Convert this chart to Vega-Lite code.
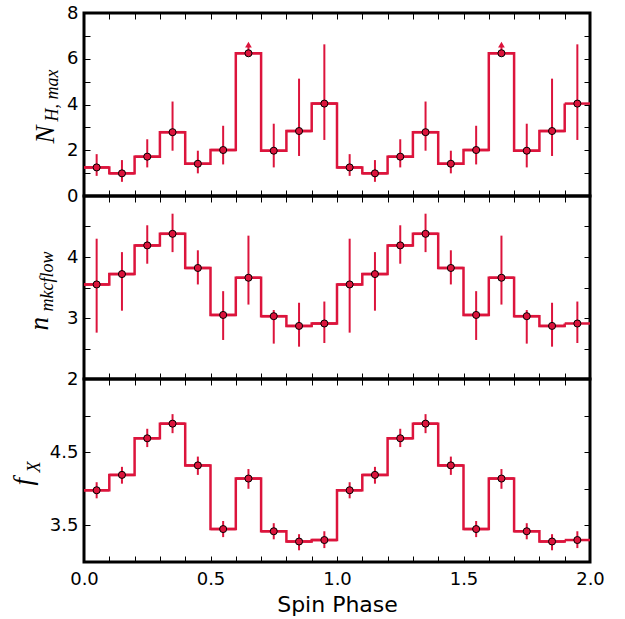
{
  "$schema": "https://vega.github.io/schema/vega-lite/v6.json",
  "autosize": {"type": "none"},
  "padding": {"left": 84, "top": 13, "right": 541, "bottom": 606},
  "background": "white",
  "bounds": "flush",
  "config": {
    "view": {"stroke": "black", "strokeWidth": 3},
    "axis": {
      "domain": false, "grid": false, "tickColor": "black", "tickWidth": 1, "tickSize": -6,
      "labelFont": "DejaVu Sans", "labelFontSize": 18, "labelColor": "black",
      "labelOverlap": false, "labelBound": false, "labelFlush": false
    }
  },
  "datasets": {
    "nh": [
      {"phase":0.05,"lo":0.0,"hi":0.1,"v":1.25,"emin":0.88,"emax":1.83},
      {"phase":0.15,"lo":0.1,"hi":0.2,"v":0.99,"emin":0.62,"emax":1.57},
      {"phase":0.25,"lo":0.2,"hi":0.3,"v":1.72,"emin":1.25,"emax":2.48},
      {"phase":0.35,"lo":0.3,"hi":0.4,"v":2.79,"emin":1.98,"emax":4.13},
      {"phase":0.45,"lo":0.4,"hi":0.5,"v":1.41,"emin":0.99,"emax":1.98},
      {"phase":0.55,"lo":0.5,"hi":0.6,"v":2.01,"emin":1.38,"emax":3.07},
      {"phase":0.65,"lo":0.6,"hi":0.7,"v":6.24,"emin":6.24,"emax":6.62,"lowerlimit":true},
      {"phase":0.75,"lo":0.7,"hi":0.8,"v":1.98,"emin":1.25,"emax":3.16},
      {"phase":0.85,"lo":0.8,"hi":0.9,"v":2.84,"emin":1.75,"emax":5.13},
      {"phase":0.95,"lo":0.9,"hi":1.0,"v":4.04,"emin":2.45,"emax":6.63},
      {"phase":1.05,"lo":1.0,"hi":1.1,"v":1.25,"emin":0.88,"emax":1.83},
      {"phase":1.15,"lo":1.1,"hi":1.2,"v":0.99,"emin":0.62,"emax":1.57},
      {"phase":1.25,"lo":1.2,"hi":1.3,"v":1.72,"emin":1.25,"emax":2.48},
      {"phase":1.35,"lo":1.3,"hi":1.4,"v":2.79,"emin":1.98,"emax":4.13},
      {"phase":1.45,"lo":1.4,"hi":1.5,"v":1.41,"emin":0.99,"emax":1.98},
      {"phase":1.55,"lo":1.5,"hi":1.6,"v":2.01,"emin":1.38,"emax":3.07},
      {"phase":1.65,"lo":1.6,"hi":1.7,"v":6.24,"emin":6.24,"emax":6.62,"lowerlimit":true},
      {"phase":1.75,"lo":1.7,"hi":1.8,"v":1.98,"emin":1.25,"emax":3.16},
      {"phase":1.85,"lo":1.8,"hi":1.9,"v":2.84,"emin":1.75,"emax":5.13},
      {"phase":1.95,"lo":1.9,"hi":2.0,"v":4.04,"emin":2.45,"emax":6.63}
    ],
    "nm": [
      {"phase":0.05,"lo":0.0,"hi":0.1,"v":3.55,"emin":2.76,"emax":4.30},
      {"phase":0.15,"lo":0.1,"hi":0.2,"v":3.72,"emin":3.12,"emax":4.08},
      {"phase":0.25,"lo":0.2,"hi":0.3,"v":4.19,"emin":3.89,"emax":4.52},
      {"phase":0.35,"lo":0.3,"hi":0.4,"v":4.38,"emin":4.08,"emax":4.71},
      {"phase":0.45,"lo":0.4,"hi":0.5,"v":3.82,"emin":3.55,"emax":4.11},
      {"phase":0.55,"lo":0.5,"hi":0.6,"v":3.05,"emin":2.64,"emax":3.44},
      {"phase":0.65,"lo":0.6,"hi":0.7,"v":3.66,"emin":3.22,"emax":4.35},
      {"phase":0.75,"lo":0.7,"hi":0.8,"v":3.03,"emin":2.58,"emax":3.13},
      {"phase":0.85,"lo":0.8,"hi":0.9,"v":2.87,"emin":2.53,"emax":3.25},
      {"phase":0.95,"lo":0.9,"hi":1.0,"v":2.91,"emin":2.59,"emax":3.27},
      {"phase":1.05,"lo":1.0,"hi":1.1,"v":3.55,"emin":2.76,"emax":4.30},
      {"phase":1.15,"lo":1.1,"hi":1.2,"v":3.72,"emin":3.12,"emax":4.08},
      {"phase":1.25,"lo":1.2,"hi":1.3,"v":4.19,"emin":3.89,"emax":4.52},
      {"phase":1.35,"lo":1.3,"hi":1.4,"v":4.38,"emin":4.08,"emax":4.71},
      {"phase":1.45,"lo":1.4,"hi":1.5,"v":3.82,"emin":3.55,"emax":4.11},
      {"phase":1.55,"lo":1.5,"hi":1.6,"v":3.05,"emin":2.64,"emax":3.44},
      {"phase":1.65,"lo":1.6,"hi":1.7,"v":3.66,"emin":3.22,"emax":4.35},
      {"phase":1.75,"lo":1.7,"hi":1.8,"v":3.03,"emin":2.58,"emax":3.13},
      {"phase":1.85,"lo":1.8,"hi":1.9,"v":2.87,"emin":2.53,"emax":3.25},
      {"phase":1.95,"lo":1.9,"hi":2.0,"v":2.91,"emin":2.59,"emax":3.27}
    ],
    "fx": [
      {"phase":0.05,"lo":0.0,"hi":0.1,"v":3.98,"emin":3.87,"emax":4.09},
      {"phase":0.15,"lo":0.1,"hi":0.2,"v":4.19,"emin":4.07,"emax":4.30},
      {"phase":0.25,"lo":0.2,"hi":0.3,"v":4.69,"emin":4.57,"emax":4.82},
      {"phase":0.35,"lo":0.3,"hi":0.4,"v":4.89,"emin":4.76,"emax":5.02},
      {"phase":0.45,"lo":0.4,"hi":0.5,"v":4.32,"emin":4.19,"emax":4.44},
      {"phase":0.55,"lo":0.5,"hi":0.6,"v":3.45,"emin":3.34,"emax":3.56},
      {"phase":0.65,"lo":0.6,"hi":0.7,"v":4.14,"emin":4.00,"emax":4.27},
      {"phase":0.75,"lo":0.7,"hi":0.8,"v":3.42,"emin":3.31,"emax":3.53},
      {"phase":0.85,"lo":0.8,"hi":0.9,"v":3.28,"emin":3.16,"emax":3.38},
      {"phase":0.95,"lo":0.9,"hi":1.0,"v":3.30,"emin":3.19,"emax":3.42},
      {"phase":1.05,"lo":1.0,"hi":1.1,"v":3.98,"emin":3.87,"emax":4.09},
      {"phase":1.15,"lo":1.1,"hi":1.2,"v":4.19,"emin":4.07,"emax":4.30},
      {"phase":1.25,"lo":1.2,"hi":1.3,"v":4.69,"emin":4.57,"emax":4.82},
      {"phase":1.35,"lo":1.3,"hi":1.4,"v":4.89,"emin":4.76,"emax":5.02},
      {"phase":1.45,"lo":1.4,"hi":1.5,"v":4.32,"emin":4.19,"emax":4.44},
      {"phase":1.55,"lo":1.5,"hi":1.6,"v":3.45,"emin":3.34,"emax":3.56},
      {"phase":1.65,"lo":1.6,"hi":1.7,"v":4.14,"emin":4.00,"emax":4.27},
      {"phase":1.75,"lo":1.7,"hi":1.8,"v":3.42,"emin":3.31,"emax":3.53},
      {"phase":1.85,"lo":1.8,"hi":1.9,"v":3.28,"emin":3.16,"emax":3.38},
      {"phase":1.95,"lo":1.9,"hi":2.0,"v":3.30,"emin":3.19,"emax":3.42}
    ]
  },
  "spacing": 0,
  "vconcat": [
    {
      "width": 506, "height": 183,
      "data": {"name": "nh"},
      "resolve": {"axis": {"x": "independent", "y": "independent"}},
      "layer": [
        {
          "mark": {"type": "rule", "color": "#DC143C", "strokeWidth": 2.5},
          "encoding": {
            "x": {"field": "lo", "type": "quantitative", "scale": {"domain": [0, 2], "nice": false},
                  "axis": {"orient": "bottom", "values": [0,0.1,0.2,0.3,0.4,0.5,0.6,0.7,0.8,0.9,1,1.1,1.2,1.3,1.4,1.5,1.6,1.7,1.8,1.9,2], "labels": false, "title": null}},
            "x2": {"field": "hi"},
            "y": {"field": "v", "type": "quantitative", "scale": {"domain": [0, 8], "nice": false, "zero": false},
                  "axis": {"orient": "left", "values": [0,1,2,3,4,5,6,7,8], "labelExpr": "datum.value % 2 == 0 ? format(datum.value, 'd') : ''", "labelPadding": 12,
                           "title": "N", "titleFont": "Liberation Serif", "titleFontStyle": "italic", "titleFontWeight": "normal", "titleFontSize": 27,
                           "titleAngle": -90, "titleAlign": "left", "titleBaseline": "alphabetic", "titleX": -31, "titleY": 130}}
          }
        },
        {
          "mark": {"type": "line", "interpolate": "step-after", "color": "#DC143C", "strokeWidth": 2.5},
          "encoding": {
            "x": {"field": "lo", "type": "quantitative", "scale": {"domain": [0, 2], "nice": false},
                  "axis": {"orient": "top", "values": [0,0.1,0.2,0.3,0.4,0.5,0.6,0.7,0.8,0.9,1,1.1,1.2,1.3,1.4,1.5,1.6,1.7,1.8,1.9,2], "labels": false, "title": null}},
            "y": {"field": "v", "type": "quantitative", "scale": {"domain": [0, 8], "nice": false, "zero": false},
                  "axis": {"orient": "right", "values": [0,1,2,3,4,5,6,7,8], "labels": false, "title": null}}
          }
        },
        {
          "mark": {"type": "rule", "color": "#DC143C", "strokeWidth": 2},
          "encoding": {
            "x": {"field": "phase", "type": "quantitative", "scale": {"domain": [0, 2], "nice": false}, "axis": null},
            "y": {"field": "emin", "type": "quantitative", "scale": {"domain": [0, 8], "nice": false, "zero": false},
                  "axis": {"orient": "left", "ticks": false, "labels": false,
                           "title": "H, max", "titleFont": "Liberation Serif", "titleFontStyle": "italic", "titleFontWeight": "normal", "titleFontSize": 18,
                           "titleAngle": -90, "titleAlign": "left", "titleBaseline": "alphabetic", "titleX": -27, "titleY": 108}},
            "y2": {"field": "emax"}
          }
        },
        {
          "transform": [{"filter": "datum.lowerlimit === true"}],
          "mark": {"type": "point", "shape": "triangle-up", "filled": true, "color": "#DC143C", "size": 45, "opacity": 1},
          "encoding": {
            "x": {"field": "phase", "type": "quantitative", "scale": {"domain": [0, 2], "nice": false}, "axis": null},
            "y": {"field": "emax", "type": "quantitative", "scale": {"domain": [0, 8], "nice": false, "zero": false}, "axis": null}
          }
        },
        {
          "mark": {"type": "point", "filled": true, "fill": "#DC143C", "stroke": "black", "strokeWidth": 1, "size": 50, "opacity": 1},
          "encoding": {
            "x": {"field": "phase", "type": "quantitative", "scale": {"domain": [0, 2], "nice": false}, "axis": null},
            "y": {"field": "v", "type": "quantitative", "scale": {"domain": [0, 8], "nice": false, "zero": false}, "axis": null}
          }
        }
      ]
    },
    {
      "width": 506, "height": 183,
      "data": {"name": "nm"},
      "resolve": {"axis": {"x": "independent", "y": "independent"}},
      "layer": [
        {
          "mark": {"type": "rule", "color": "#DC143C", "strokeWidth": 2.5},
          "encoding": {
            "x": {"field": "lo", "type": "quantitative", "scale": {"domain": [0, 2], "nice": false},
                  "axis": {"orient": "bottom", "values": [0,0.1,0.2,0.3,0.4,0.5,0.6,0.7,0.8,0.9,1,1.1,1.2,1.3,1.4,1.5,1.6,1.7,1.8,1.9,2], "labels": false, "title": null}},
            "x2": {"field": "hi"},
            "y": {"field": "v", "type": "quantitative", "scale": {"domain": [2, 5], "nice": false, "zero": false},
                  "axis": {"orient": "left", "values": [2,2.5,3,3.5,4,4.5,5], "labelExpr": "(datum.value % 1 == 0 && datum.value < 5) ? format(datum.value, 'd') : ''", "labelPadding": 12,
                           "title": "n", "titleFont": "Liberation Serif", "titleFontStyle": "italic", "titleFontWeight": "normal", "titleFontSize": 27,
                           "titleAngle": -90, "titleAlign": "left", "titleBaseline": "alphabetic", "titleX": -37, "titleY": 134}}
          }
        },
        {
          "mark": {"type": "line", "interpolate": "step-after", "color": "#DC143C", "strokeWidth": 2.5},
          "encoding": {
            "x": {"field": "lo", "type": "quantitative", "scale": {"domain": [0, 2], "nice": false},
                  "axis": {"orient": "top", "values": [0,0.1,0.2,0.3,0.4,0.5,0.6,0.7,0.8,0.9,1,1.1,1.2,1.3,1.4,1.5,1.6,1.7,1.8,1.9,2], "labels": false, "title": null}},
            "y": {"field": "v", "type": "quantitative", "scale": {"domain": [2, 5], "nice": false, "zero": false},
                  "axis": {"orient": "right", "values": [2,2.5,3,3.5,4,4.5,5], "labels": false, "title": null}}
          }
        },
        {
          "mark": {"type": "rule", "color": "#DC143C", "strokeWidth": 2},
          "encoding": {
            "x": {"field": "phase", "type": "quantitative", "scale": {"domain": [0, 2], "nice": false}, "axis": null},
            "y": {"field": "emin", "type": "quantitative", "scale": {"domain": [2, 5], "nice": false, "zero": false},
                  "axis": {"orient": "left", "ticks": false, "labels": false,
                           "title": "mkcflow", "titleFont": "Liberation Serif", "titleFontStyle": "italic", "titleFontWeight": "normal", "titleFontSize": 18,
                           "titleAngle": -90, "titleAlign": "left", "titleBaseline": "alphabetic", "titleX": -32, "titleY": 115}},
            "y2": {"field": "emax"}
          }
        },
        {
          "mark": {"type": "point", "filled": true, "fill": "#DC143C", "stroke": "black", "strokeWidth": 1, "size": 50, "opacity": 1},
          "encoding": {
            "x": {"field": "phase", "type": "quantitative", "scale": {"domain": [0, 2], "nice": false}, "axis": null},
            "y": {"field": "v", "type": "quantitative", "scale": {"domain": [2, 5], "nice": false, "zero": false}, "axis": null}
          }
        }
      ]
    },
    {
      "width": 506, "height": 183,
      "data": {"name": "fx"},
      "resolve": {"axis": {"x": "independent", "y": "independent"}},
      "layer": [
        {
          "mark": {"type": "rule", "color": "#DC143C", "strokeWidth": 2.5},
          "encoding": {
            "x": {"field": "lo", "type": "quantitative", "scale": {"domain": [0, 2], "nice": false},
                  "axis": {"orient": "bottom", "values": [0,0.1,0.2,0.3,0.4,0.5,0.6,0.7,0.8,0.9,1,1.1,1.2,1.3,1.4,1.5,1.6,1.7,1.8,1.9,2],
                           "labelExpr": "abs(datum.value*2 - round(datum.value*2)) < 0.001 ? format(datum.value, '.1f') : ''", "labelPadding": 14,
                           "title": "Spin Phase", "titleFont": "DejaVu Sans", "titleFontSize": 22, "titleFontWeight": "normal", "titlePadding": 6}},
            "x2": {"field": "hi"},
            "y": {"field": "v", "type": "quantitative", "scale": {"domain": [3, 5.5], "nice": false, "zero": false},
                  "axis": {"orient": "left", "values": [3,3.5,4,4.5,5,5.5], "labelExpr": "(datum.value == 3.5 || datum.value == 4.5) ? format(datum.value, '.1f') : ''", "labelPadding": 12,
                           "title": "f", "titleFont": "Liberation Serif", "titleFontStyle": "italic", "titleFontWeight": "normal", "titleFontSize": 27,
                           "titleAngle": -90, "titleAlign": "left", "titleBaseline": "alphabetic", "titleX": -53, "titleY": 106}}
          }
        },
        {
          "mark": {"type": "line", "interpolate": "step-after", "color": "#DC143C", "strokeWidth": 2.5},
          "encoding": {
            "x": {"field": "lo", "type": "quantitative", "scale": {"domain": [0, 2], "nice": false},
                  "axis": {"orient": "top", "values": [0,0.1,0.2,0.3,0.4,0.5,0.6,0.7,0.8,0.9,1,1.1,1.2,1.3,1.4,1.5,1.6,1.7,1.8,1.9,2], "labels": false, "title": null}},
            "y": {"field": "v", "type": "quantitative", "scale": {"domain": [3, 5.5], "nice": false, "zero": false},
                  "axis": {"orient": "right", "values": [3,3.5,4,4.5,5,5.5], "labels": false, "title": null}}
          }
        },
        {
          "mark": {"type": "rule", "color": "#DC143C", "strokeWidth": 2},
          "encoding": {
            "x": {"field": "phase", "type": "quantitative", "scale": {"domain": [0, 2], "nice": false}, "axis": null},
            "y": {"field": "emin", "type": "quantitative", "scale": {"domain": [3, 5.5], "nice": false, "zero": false},
                  "axis": {"orient": "left", "ticks": false, "labels": false,
                           "title": "X", "titleFont": "Liberation Serif", "titleFontStyle": "italic", "titleFontWeight": "normal", "titleFontSize": 18,
                           "titleAngle": -90, "titleAlign": "left", "titleBaseline": "alphabetic", "titleX": -45, "titleY": 93}},
            "y2": {"field": "emax"}
          }
        },
        {
          "mark": {"type": "point", "filled": true, "fill": "#DC143C", "stroke": "black", "strokeWidth": 1, "size": 50, "opacity": 1},
          "encoding": {
            "x": {"field": "phase", "type": "quantitative", "scale": {"domain": [0, 2], "nice": false}, "axis": null},
            "y": {"field": "v", "type": "quantitative", "scale": {"domain": [3, 5.5], "nice": false, "zero": false}, "axis": null}
          }
        }
      ]
    }
  ]
}
